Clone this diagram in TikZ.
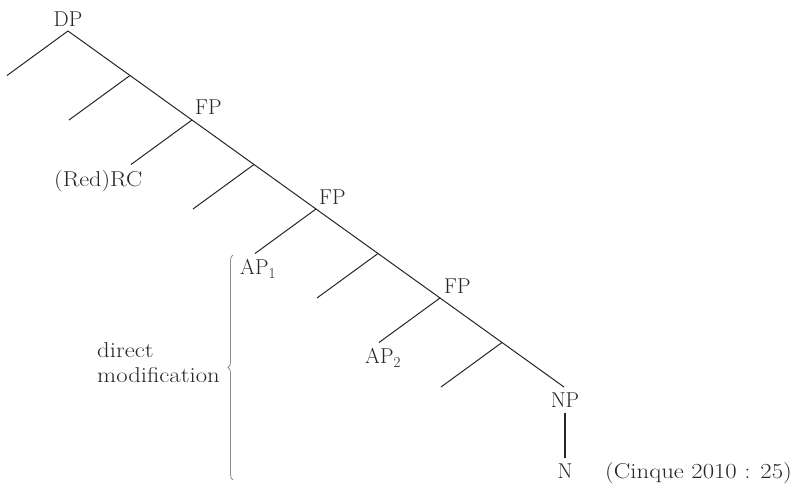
\documentclass[tikz,border=0pt]{standalone}
\usetikzlibrary{decorations.pathreplacing}
\begin{document}
\begin{tikzpicture}[x=1pt,y=-1pt,
  branch/.style={line width=1pt, draw=black!85},
  lab/.style={inner sep=0pt, font=\fontsize{21.5}{25}\selectfont, text=black!85},
  bracestyle/.style={draw=black!45, line width=0.8pt, decorate, decoration={brace, amplitude=5pt, aspect=0.5}}]
\useasboundingbox (0,0) rectangle (793,486);
% spine coordinates
\coordinate (j0) at (68,31);
\coordinate (j1) at (130,75.5);
\coordinate (j2) at (192,120);
\coordinate (j3) at (254,164.5);
\coordinate (j4) at (316,209);
\coordinate (j5) at (378,253.5);
\coordinate (j6) at (440,298);
\coordinate (j7) at (502,342.5);
\coordinate (j8) at (564,387);
% left branch ends
\coordinate (l0) at (7,75.5);
\coordinate (l1) at (69,120);
\coordinate (l2) at (131,164.5);
\coordinate (l3) at (193,209);
\coordinate (l4) at (255,253.5);
\coordinate (l5) at (317,298);
\coordinate (l6) at (379,342.5);
\coordinate (l7) at (441,387);
% labels
\node[lab, anchor=base] (dp) at (68,27) {DP};
\node[lab, anchor=base west] (fp1) at (195,115) {FP};
\node[lab, anchor=base west] (rc) at (54,187) {\scalebox{1.13}[1]{(Red)RC}};
\node[lab, anchor=base west] (fp2) at (319,205) {FP};
\node[lab, anchor=base west] (ap1) at (240,275) {AP\textsubscript{1}};
\node[lab, anchor=base west] (fp3) at (444,294) {FP};
\node[lab, anchor=base west] (ap2) at (365,364) {AP\textsubscript{2}};
\node[lab, anchor=base] (np) at (565,407) {NP};
\node[lab, anchor=base] (n) at (565,478) {N};
\node[lab, anchor=base west] (src) at (605,478) {\scalebox{1.15}[1]{(Cinque 2010 : 25)}};
\node[lab, anchor=base west, align=left] (dm) at (97,383) {\scalebox{1.15}[1]{direct}\\\scalebox{1.15}[1]{modification}};
% spine
\draw[branch] (j0) -- (j1) -- (j2) -- (j3) -- (j4) -- (j5) -- (j6) -- (j7) -- (j8);
\foreach \i in {0,...,7} { \draw[branch] (j\i) -- (l\i); }
% NP to N
\coordinate (npb) at (565,413);
\coordinate (nt) at (565,458);
\draw[line width=1.6pt, draw=black!85] (npb) -- (nt);
% brace
\coordinate (bb) at (233,480);
\coordinate (bt) at (233,255);
\draw[bracestyle] (bb) -- (bt);
\end{tikzpicture}
\end{document}
